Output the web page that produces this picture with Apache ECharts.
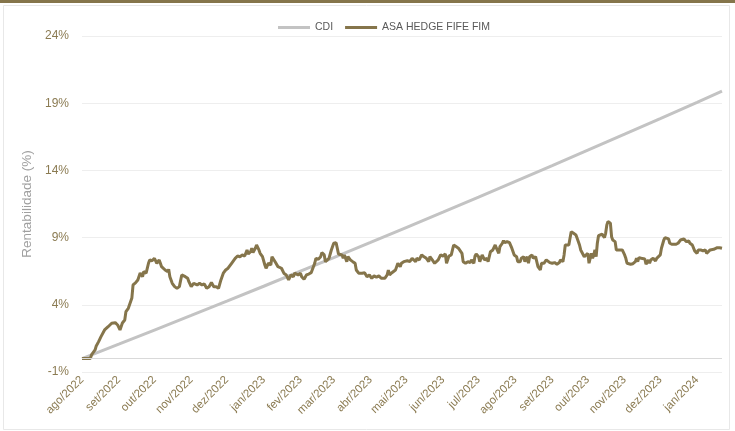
<!DOCTYPE html>
<html>
<head>
<meta charset="utf-8">
<script src="https://cdn.jsdelivr.net/npm/echarts@6/dist/echarts.min.js"></script>
<style>
  html, body { margin: 0; padding: 0; background: #ffffff; }
  #chart { width: 735px; height: 431px; }
</style>
</head>
<body>
<div id="chart"></div>
<script>
// ---- Data ----
const monthNames = ['jan','fev','mar','abr','mai','jun','jul','ago','set','out','nov','dez'];
const seriesNames = ['CDI', 'ASA HEDGE FIFE FIM'];
const axisStart = [2022, 7, 1];   // 1 ago 2022
const axisEnd = [2024, 0, 22];    // 22 jan 2024

const cdiDates = ['2022-08-01','2022-09-01','2022-10-01','2022-11-01','2022-12-01','2023-01-01',
  '2023-02-01','2023-03-01','2023-04-01','2023-05-01','2023-06-01','2023-07-01','2023-08-01',
  '2023-09-01','2023-10-01','2023-11-01','2023-12-01','2024-01-01','2024-01-22'];
const cdiValues = [0, 1.07, 2.12, 3.21, 4.27, 5.38, 6.50, 7.51, 8.64, 9.75, 10.90, 12.02, 13.19,
  14.36, 15.51, 16.70, 17.86, 19.07, 19.90];

// [days since 1 ago 2022, cumulative return %]
const fundPoints = [
[0,0],[7,0],[8,0.27],[11,0.64],[12,0.94],[14,1.26],[16,1.63],[17,1.76],[19,2.13],[22,2.37],[25,2.63],[28,2.67],[30,2.50],[31,2.43],[32,2.13],[33,2.00],[34,2.65],[36,2.87],[37,3.49],[39,3.74],[40,3.62],[42,4.51],[43,5.48],[45,5.63],[46,5.72],[47,5.85],[49,6.37],[50,6.47],[51,6.09],[52,6.47],[54,6.35],[56,7.09],[57,7.34],[59,7.28],[61,7.46],[62,7.46],[63,7.09],[65,7.34],[66,7.09],[67,6.84],[68,6.96],[70,6.59],[72,6.47],[73,6.64],[74,6.09],[76,5.60],[78,5.35],[80,5.22],[82,5.35],[84,6.22],[87,6.09],[89,5.97],[90,5.72],[92,5.35],[94,5.60],[97,5.48],[99,5.60],[101,5.48],[103,5.55],[105,5.23],[107,5.35],
[109,5.65],[111,5.35],[113,5.35],[115,5.23],[117,5.85],[119,6.35],[121,6.59],[123,6.72],[124,6.59],[126,7.09],[127,7.21],[129,7.46],[131,7.63],[133,7.58],[135,7.71],[137,7.63],[139,8.08],[140,7.78],[142,7.95],[143,8.21],[144,7.88],[146,8.21],[147,8.45],[149,8.08],[150,7.83],[152,7.58],[154,6.96],[155,6.72],[157,7.09],[159,6.96],[160,7.58],[161,7.71],[163,7.14],[164,7.21],[165,6.84],[168,6.72],[170,6.35],[171,6.47],[172,6.22],[174,5.85],[176,6.22],[178,6.09],[179,6.35],[182,6.22],[184,6.35],[185,6.09],[187,5.90],[189,6.22],[191,6.29],[193,6.39],[194,6.29],[196,7.09],[197,7.46],[199,7.39],[201,7.58],[202,7.88],[204,7.71],[205,7.21],[206,7.09],[208,7.46],[209,7.58],[210,8.08],[212,8.58],[213,8.70],
[214,8.62],[215,8.21],[216,7.78],[217,7.88],[219,7.71],[220,7.46],[221,7.71],[223,7.21],[224,7.58],[226,7.34],[227,7.46],[228,7.21],[230,7.09],[231,6.59],[233,6.35],[234,6.22],[236,6.35],[237,6.47],[238,6.39],[240,6.09],[242,6.22],[244,5.97],[246,6.15],[248,6.05],[250,6.15],[252,5.97],[253,6.05],[255,5.97],[257,6.22],[258,6.59],[259,6.22],[261,6.39],[262,6.35],[264,6.59],[265,6.84],[266,7.09],[268,6.84],[269,7.09],[271,7.21],[272,7.09],[274,7.28],[276,7.21],[278,7.46],[279,7.34],[281,7.21],[282,7.46],[284,7.34],[286,7.71],[288,7.58],[290,7.46],[292,7.21],[293,7.58],[295,7.34],[297,7.09],[298,7.21],[300,7.34],[302,7.71],[304,7.63],[306,7.78],[307,7.09],[309,7.63],[311,7.71],[312,7.83],[313,8.45],[315,8.33],[317,8.21],
[318,8.33],[320,7.83],[321,7.21],[323,7.09],[325,7.21],[327,7.14],[328,7.34],[330,7.09],[331,7.63],[332,7.78],[334,7.58],[335,7.21],[337,7.71],[338,7.58],[339,7.34],[341,7.46],[342,7.21],[344,7.95],[345,7.83],[346,8.08],[348,8.45],[349,8.21],[351,7.83],[352,8.33],[354,8.58],[355,8.77],[356,8.62],[358,8.70],[360,8.62],[361,8.58],[362,8.21],[364,7.71],[366,7.58],[367,7.21],[369,7.21],[370,7.46],[372,7.58],[373,7.21],[375,7.58],[376,7.09],[377,7.58],[379,7.71],[380,7.46],[382,7.58],[383,7.21],[384,6.84],[386,6.59],[387,7.09],[388,7.21],[389,7.09],[391,7.34],[392,7.21],[394,7.14],[396,7.09],[398,7.14],[400,7.02],[402,7.14],[403,7.34],[405,7.21],[406,7.71],[407,8.45],[408,8.58],[410,8.45],[411,8.95],[412,9.44],[414,9.32],[416,9.20],[417,8.95],[419,8.45],[420,8.08],[421,8.21],[423,7.58],[424,7.46],[426,7.83],[427,7.09],
[429,7.83],[430,7.46],[431,7.71],[432,8.08],[433,7.58],[434,8.58],[435,9.14],[436,9.25],[438,9.25],[439,9.20],[440,9.00],[441,9.32],[442,9.94],[443,10.19],[445,10.07],[446,9.07],[447,8.82],[449,8.70],[450,8.08],[452,8.08],[453,8.01],[455,8.08],[456,8.21],[457,7.71],[458,7.46],[459,7.09],[460,7.09],[462,7.02],[463,7.02],[464,7.06],[466,7.21],[467,7.46],[468,7.21],[469,7.51],[471,7.46],[472,7.34],[474,7.41],[475,7.02],[477,7.34],[478,7.09],[479,7.34],[480,7.41],[481,7.46],[483,7.26],[484,7.46],[485,7.46],[487,7.71],[488,8.21],[490,8.82],[491,9.00],[492,9.00],[494,8.90],[495,8.58],[497,8.50],[498,8.50],[500,8.50],[501,8.45],[502,8.58],[504,8.82],[505,8.90],[507,8.90],[508,8.82],[509,8.70],[511,8.75],[512,8.58],[514,8.45],[515,8.33],[516,8.01],[518,7.83],[519,8.08],[521,8.08],[522,7.95],[523,8.01],[525,8.08],[526,7.83],[527,7.83],[529,8.08],[530,8.15],[532,8.13],[533,8.21],[535,8.25],[536,8.21],[537,8.25],[539,8.21]
];

// ---- Build ----
const dayMs = (y, m, d) => new Date(y, m, d).getTime();
const cdiData = cdiDates.map((s, i) => {
  const p = s.split('-').map(Number);
  return [dayMs(p[0], p[1] - 1, p[2]), cdiValues[i]];
});
const fundData = fundPoints.map(p => [dayMs(axisStart[0], axisStart[1], axisStart[2] + p[0]), p[1]]);

const FONT = 'Liberation Sans, Arial, sans-serif';
const BROWN = '#85754b';
const GRAY = '#c3c3c3';
const LABEL = '#8b7b52';

const chart = echarts.init(document.getElementById('chart'), null, { renderer: 'canvas' });
chart.setOption({
  animation: false,
  backgroundColor: '#ffffff',
  textStyle: { fontFamily: FONT },
  graphic: [
    { type: 'rect', left: 0, top: 0, shape: { width: 735, height: 3 }, style: { fill: BROWN }, silent: true },
    { type: 'rect', shape: { x: 3.5, y: 5.5, width: 726, height: 424 }, style: { fill: null, stroke: '#e8e8e8', lineWidth: 1 }, silent: true, z: -1 }
  ],
  legend: {
    data: seriesNames,
    left: 273,
    top: 17,
    icon: 'rect',
    itemWidth: 32,
    itemHeight: 3,
    itemGap: 12,
    textStyle: { color: '#595959', fontSize: 10.5, fontFamily: FONT }
  },
  grid: { left: 82, right: 13, top: 36, bottom: 59, containLabel: false },
  xAxis: {
    type: 'time',
    min: dayMs(axisStart[0], axisStart[1], axisStart[2]),
    max: dayMs(axisEnd[0], axisEnd[1], axisEnd[2]),
    splitNumber: 18,
    minInterval: 28 * 86400000,
    maxInterval: 31 * 86400000,
    axisLine: { show: false },
    axisTick: { show: false },
    splitLine: { show: false },
    axisLabel: {
      rotate: 45,
      margin: 6,
      color: LABEL,
      fontSize: 11.5,
      fontFamily: FONT,
      hideOverlap: false,
      formatter: function (val) {
        const d = new Date(val);
        return monthNames[d.getMonth()] + '/' + d.getFullYear();
      }
    }
  },
  yAxis: {
    type: 'value',
    min: -1,
    max: 24,
    interval: 5,
    name: 'Rentabilidade (%)',
    nameLocation: 'middle',
    nameGap: 48,
    nameTextStyle: { color: '#a0a0a0', fontSize: 13.5, fontFamily: FONT },
    axisLine: { show: false },
    axisTick: { show: false },
    splitLine: { lineStyle: { color: '#eeeeee', width: 1 } },
    axisLabel: { formatter: '{value}%', color: LABEL, fontSize: 12, margin: 13, fontFamily: FONT }
  },
  series: [
    {
      name: seriesNames[0],
      type: 'line',
      data: cdiData,
      showSymbol: false,
      symbol: 'none',
      color: GRAY,
      lineStyle: { color: GRAY, width: 3 },
      markLine: {
        silent: true,
        symbol: 'none',
        label: { show: false },
        lineStyle: { color: '#d9d9d9', width: 1, type: 'solid' },
        data: [{ yAxis: 0 }]
      }
    },
    {
      name: seriesNames[1],
      type: 'line',
      data: fundData,
      showSymbol: false,
      symbol: 'none',
      color: BROWN,
      lineStyle: { color: BROWN, width: 3 }
    }
  ]
});
</script>
</body>
</html>
